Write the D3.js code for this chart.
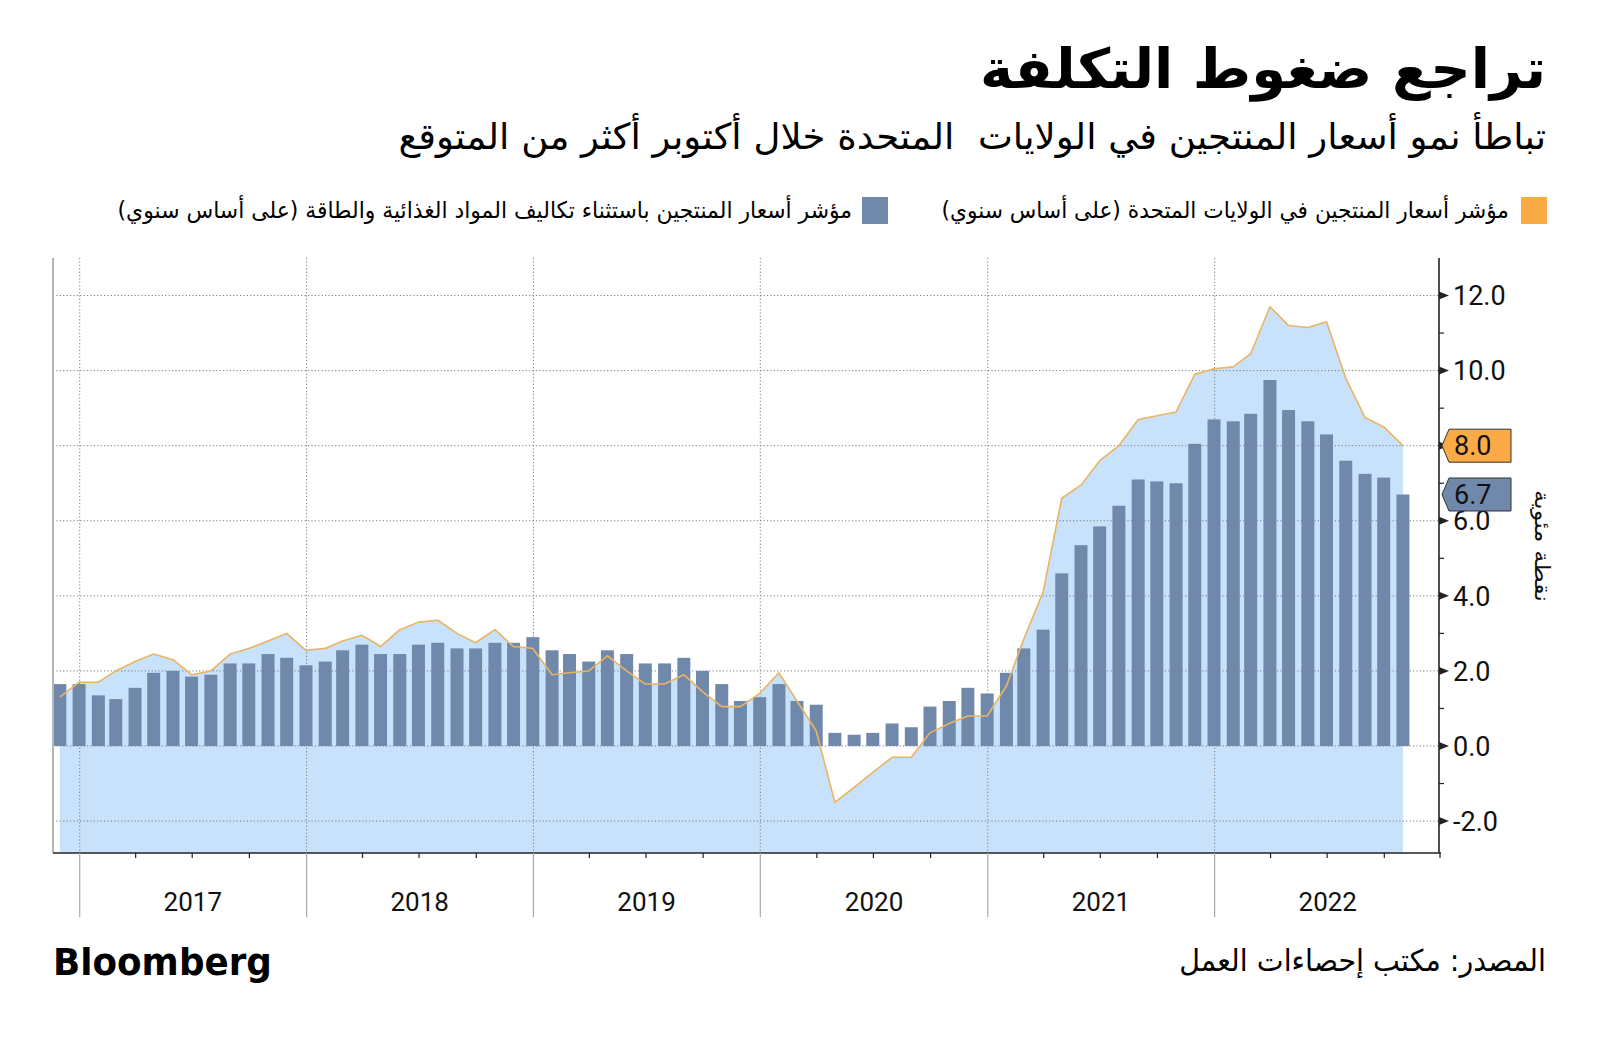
<!DOCTYPE html>
<html>
<head>
<meta charset="utf-8">
<script src="https://cdn.jsdelivr.net/npm/d3@7"></script>
<style>
  html, body { margin: 0; padding: 0; background: #ffffff; }
  svg { display: block; }
</style>
</head>
<body>
<svg id="chart" width="1600" height="1042"></svg>
<script>
// ---------------- DATA ----------------
const months = [
  "2016-11","2016-12",
  "2017-01","2017-02","2017-03","2017-04","2017-05","2017-06","2017-07","2017-08","2017-09","2017-10","2017-11","2017-12",
  "2018-01","2018-02","2018-03","2018-04","2018-05","2018-06","2018-07","2018-08","2018-09","2018-10","2018-11","2018-12",
  "2019-01","2019-02","2019-03","2019-04","2019-05","2019-06","2019-07","2019-08","2019-09","2019-10","2019-11","2019-12",
  "2020-01","2020-02","2020-03","2020-04","2020-05","2020-06","2020-07","2020-08","2020-09","2020-10","2020-11","2020-12",
  "2021-01","2021-02","2021-03","2021-04","2021-05","2021-06","2021-07","2021-08","2021-09","2021-10","2021-11","2021-12",
  "2022-01","2022-02","2022-03","2022-04","2022-05","2022-06","2022-07","2022-08","2022-09","2022-10"
];

// US PPI final demand, YoY (line + area)
const ppiHeadline = [
  1.3, 1.7,
  1.7, 2.0, 2.25, 2.45, 2.3, 1.9, 2.0, 2.45, 2.6, 2.8, 3.0, 2.55,
  2.6, 2.8, 2.95, 2.65, 3.1, 3.3, 3.35, 3.0, 2.75, 3.1, 2.65, 2.6,
  1.9, 1.95, 2.0, 2.4, 2.0, 1.65, 1.65, 1.9, 1.45, 1.05, 1.05, 1.4,
  1.95, 1.2, 0.4, -1.5, -1.1, -0.7, -0.3, -0.3, 0.35, 0.6, 0.8, 0.8,
  1.6, 2.85, 4.1, 6.6, 6.95, 7.6, 8.0, 8.7, 8.8, 8.9, 9.9, 10.05,
  10.1, 10.45, 11.7, 11.2, 11.15, 11.3, 9.8, 8.75, 8.5, 8.0
];

// US PPI ex food & energy, YoY (bars)
const ppiCore = [
  1.65, 1.65,
  1.35, 1.25, 1.55, 1.95, 2.0, 1.85, 1.9, 2.2, 2.2, 2.45, 2.35, 2.15,
  2.25, 2.55, 2.7, 2.45, 2.45, 2.7, 2.75, 2.6, 2.6, 2.75, 2.75, 2.9,
  2.55, 2.45, 2.25, 2.55, 2.45, 2.2, 2.2, 2.35, 2.0, 1.65, 1.2, 1.3,
  1.65, 1.2, 1.1, 0.35, 0.3, 0.35, 0.6, 0.5, 1.05, 1.2, 1.55, 1.4,
  1.95, 2.6, 3.1, 4.6, 5.35, 5.85, 6.4, 7.1, 7.05, 7.0, 8.05, 8.7,
  8.65, 8.85, 9.75, 8.95, 8.65, 8.3, 7.6, 7.25, 7.15, 6.7
];

const yTicks = [-2, 0, 2, 4, 6, 8, 10, 12];
const yMinorTicks = [-1, 1, 3, 5, 7, 9, 11];
const yearLabels = ["2017", "2018", "2019", "2020", "2021", "2022"];

const titleText = "تراجع ضغوط التكلفة";
const subtitleText = "تباطأ نمو أسعار المنتجين في الولايات  المتحدة خلال أكتوبر أكثر من المتوقع";
const legendHeadline = "مؤشر أسعار المنتجين في الولايات المتحدة (على أساس سنوي)";
const legendCore = "مؤشر أسعار المنتجين باستثناء تكاليف المواد الغذائية والطاقة (على أساس سنوي)";
const axisTitle = "نقطة مئوية";
const sourceText = "المصدر: مكتب إحصاءات العمل";
const brandText = "Bloomberg";

// ---------------- SETUP ----------------
const COLORS = {
  bar: "#7089ab",
  area: "#c9e2fb",
  line: "#ebb463",
  orange: "#fbab45",
  grid: "#7a7a7a",
  axis: "#222222"
};

const svg = d3.select("#chart");
const plot = { left: 53, right: 1439, top: 258, bottom: 853 };

const parseMonthEnd = s => {
  const [yy, mm] = s.split("-").map(Number);
  return new Date(yy, mm, 0); // last day of the month
};

const data = months.map((m, i) => ({
  date: parseMonthEnd(m),
  head: ppiHeadline[i],
  core: ppiCore[i]
}));

const x = d3.scaleTime()
  .domain([new Date(2016, 10, 19), new Date(2022, 11, 28)])
  .range([plot.left, plot.right]);

const y = d3.scaleLinear()
  .domain([-2.85, 13.0])
  .range([plot.bottom, plot.top]);

const fmt1 = v => d3.format(".1f")(v).replace("\u2212", "-");
const yearStarts = yearLabels.map(t => new Date(+t, 0, 1));

// ---------------- AREA ----------------
const area = d3.area()
  .x(d => x(d.date))
  .y0(plot.bottom)
  .y1(d => y(d.head));

svg.append("path")
  .datum(data)
  .attr("d", area)
  .attr("fill", COLORS.area);

// ---------------- GRID ----------------
const grid = svg.append("g");
grid.selectAll("line.h")
  .data(yTicks)
  .join("line")
  .attr("x1", plot.left).attr("x2", plot.right)
  .attr("y1", d => y(d)).attr("y2", d => y(d))
  .attr("stroke", COLORS.grid)
  .attr("stroke-width", 1)
  .attr("stroke-dasharray", "1.2,2.2");

grid.selectAll("line.v")
  .data(yearStarts)
  .join("line")
  .attr("x1", d => x(d)).attr("x2", d => x(d))
  .attr("y1", plot.top).attr("y2", plot.bottom)
  .attr("stroke", COLORS.grid)
  .attr("stroke-width", 1)
  .attr("stroke-dasharray", "1.2,2.2");

// ---------------- BARS ----------------
const barW = 13;
svg.append("g")
  .selectAll("rect")
  .data(data)
  .join("rect")
  .attr("x", d => x(d.date) - barW / 2)
  .attr("width", barW)
  .attr("y", d => Math.min(y(d.core), y(0)))
  .attr("height", d => Math.abs(y(d.core) - y(0)))
  .attr("fill", COLORS.bar);

// ---------------- LINE ----------------
const line = d3.line()
  .x(d => x(d.date))
  .y(d => y(d.head));

svg.append("path")
  .datum(data)
  .attr("d", line)
  .attr("fill", "none")
  .attr("stroke", COLORS.line)
  .attr("stroke-width", 1.6)
  .attr("stroke-linejoin", "round");

// ---------------- AXES ----------------
svg.append("line")
  .attr("x1", plot.left).attr("x2", plot.left)
  .attr("y1", plot.top).attr("y2", plot.bottom)
  .attr("stroke", "#b5b5b5").attr("stroke-width", 2);

const yAxisG = svg.append("g");
yAxisG.append("line")
  .attr("x1", plot.right).attr("x2", plot.right)
  .attr("y1", plot.top).attr("y2", plot.bottom)
  .attr("stroke", COLORS.axis).attr("stroke-width", 1.6);

yAxisG.selectAll("path.tri")
  .data(yTicks)
  .join("path")
  .attr("d", d => `M${plot.right},${y(d) - 4} L${plot.right + 10},${y(d)} L${plot.right},${y(d) + 4} Z`)
  .attr("fill", COLORS.axis);

yAxisG.selectAll("line.minor")
  .data(yMinorTicks)
  .join("line")
  .attr("x1", plot.right).attr("x2", plot.right + 5)
  .attr("y1", d => y(d)).attr("y2", d => y(d))
  .attr("stroke", COLORS.axis).attr("stroke-width", 1.2);

yAxisG.selectAll("text")
  .data(yTicks)
  .join("text")
  .attr("x", plot.right + 14)
  .attr("y", d => y(d))
  .attr("dy", "0.36em")
  .attr("font-family", "Roboto, 'Liberation Sans', sans-serif")
  .attr("font-size", 27)
  .attr("fill", "#111")
  .text(d => fmt1(d));

const xAxisG = svg.append("g");
xAxisG.append("line")
  .attr("x1", plot.left).attr("x2", plot.right + 2)
  .attr("y1", plot.bottom).attr("y2", plot.bottom)
  .attr("stroke", COLORS.axis).attr("stroke-width", 1.6);

const quarterTicks = x.ticks(d3.timeMonth.every(3)).filter(d => d.getMonth() !== 0);
xAxisG.selectAll("line.q")
  .data(quarterTicks)
  .join("line")
  .attr("x1", d => x(d)).attr("x2", d => x(d))
  .attr("y1", plot.bottom).attr("y2", plot.bottom + 5)
  .attr("stroke", COLORS.axis).attr("stroke-width", 1.2);

xAxisG.append("line")
  .attr("x1", plot.right + 1).attr("x2", plot.right + 1)
  .attr("y1", plot.bottom).attr("y2", plot.bottom + 5)
  .attr("stroke", COLORS.axis).attr("stroke-width", 1.2);

xAxisG.selectAll("line.yr")
  .data(yearStarts)
  .join("line")
  .attr("x1", d => x(d)).attr("x2", d => x(d))
  .attr("y1", plot.bottom).attr("y2", plot.bottom + 64)
  .attr("stroke", "#a8a8a8").attr("stroke-width", 1.2);

xAxisG.selectAll("text")
  .data(yearLabels)
  .join("text")
  .attr("x", d => x(new Date(+d, 6, 2)))
  .attr("y", 911)
  .attr("text-anchor", "middle")
  .attr("font-family", "Roboto, 'Liberation Sans', sans-serif")
  .attr("font-size", 26)
  .attr("fill", "#111")
  .text(d => d);

// ---------------- LAST VALUE TAGS ----------------
function valueTag(val, fill) {
  const yc = y(val), h = 33, tip = plot.right + 3, body = plot.right + 10, right = 1511;
  const g = svg.append("g");
  g.append("path")
    .attr("d", `M${tip},${yc} L${body},${yc - h / 2} L${right},${yc - h / 2} L${right},${yc + h / 2} L${body},${yc + h / 2} Z`)
    .attr("fill", fill)
    .attr("stroke", "#333")
    .attr("stroke-width", 1);
  g.append("text")
    .attr("x", plot.right + 15)
    .attr("y", yc)
    .attr("dy", "0.36em")
    .attr("font-family", "Roboto, 'Liberation Sans', sans-serif")
    .attr("font-size", 27)
    .attr("fill", "#111")
    .text(fmt1(val));
}
valueTag(ppiHeadline[ppiHeadline.length - 1], COLORS.orange);
valueTag(ppiCore[ppiCore.length - 1], COLORS.bar);

// ---------------- TEXT HELPERS ----------------
function placeText(o) {
  const t = svg.append("text")
    .attr("x", 0).attr("y", 0)
    .attr("font-family", o.family)
    .attr("font-size", o.size)
    .attr("font-weight", o.weight || "normal")
    .attr("fill", o.color || "#000")
    .style("white-space", "pre")
    .text(o.text);
  if (o.rtl) t.attr("direction", "rtl");
  const bb = t.node().getBBox();
  const k = o.width ? o.width / bb.width : 1;
  const tx = o.align === "right" ? o.x - (bb.x + bb.width) * k : o.x - bb.x * k;
  t.attr("transform", `translate(${tx},${o.baseline}) scale(${k},1)`);
  return t;
}

const AR = "'DejaVu Sans', sans-serif";

placeText({ text: titleText, family: AR, size: 55, weight: "bold", rtl: true,
  align: "right", x: 1546, baseline: 88, width: 566 });

placeText({ text: subtitleText, family: AR, size: 36, rtl: true,
  align: "right", x: 1546, baseline: 149, width: 1148 });

svg.append("rect").attr("x", 1521).attr("y", 197).attr("width", 26).attr("height", 27).attr("fill", COLORS.orange);
placeText({ text: legendHeadline, family: AR, size: 23, rtl: true,
  align: "right", x: 1509, baseline: 218, width: 568 });

svg.append("rect").attr("x", 862).attr("y", 197).attr("width", 26).attr("height", 27).attr("fill", COLORS.bar);
placeText({ text: legendCore, family: AR, size: 23, rtl: true,
  align: "right", x: 852, baseline: 218, width: 735 });

placeText({ text: sourceText, family: AR, size: 30, rtl: true,
  align: "right", x: 1546, baseline: 971, width: 367 });

placeText({ text: brandText, family: "'DejaVu Sans', sans-serif", size: 37, weight: "bold",
  align: "left", x: 53, baseline: 975, width: 219 });

const at = svg.append("g").attr("transform", "translate(1535,546) rotate(90)");
const atText = at.append("text")
  .attr("x", 0).attr("y", 0)
  .attr("direction", "rtl")
  .attr("font-family", AR)
  .attr("font-size", 21)
  .attr("fill", "#111")
  .text(axisTitle);
{
  const bb = atText.node().getBBox();
  const k = 112 / bb.width;
  const cx = bb.x + bb.width / 2;
  atText.attr("transform", `scale(${k},1) translate(${-cx},0)`);
}
</script>
</body>
</html>
